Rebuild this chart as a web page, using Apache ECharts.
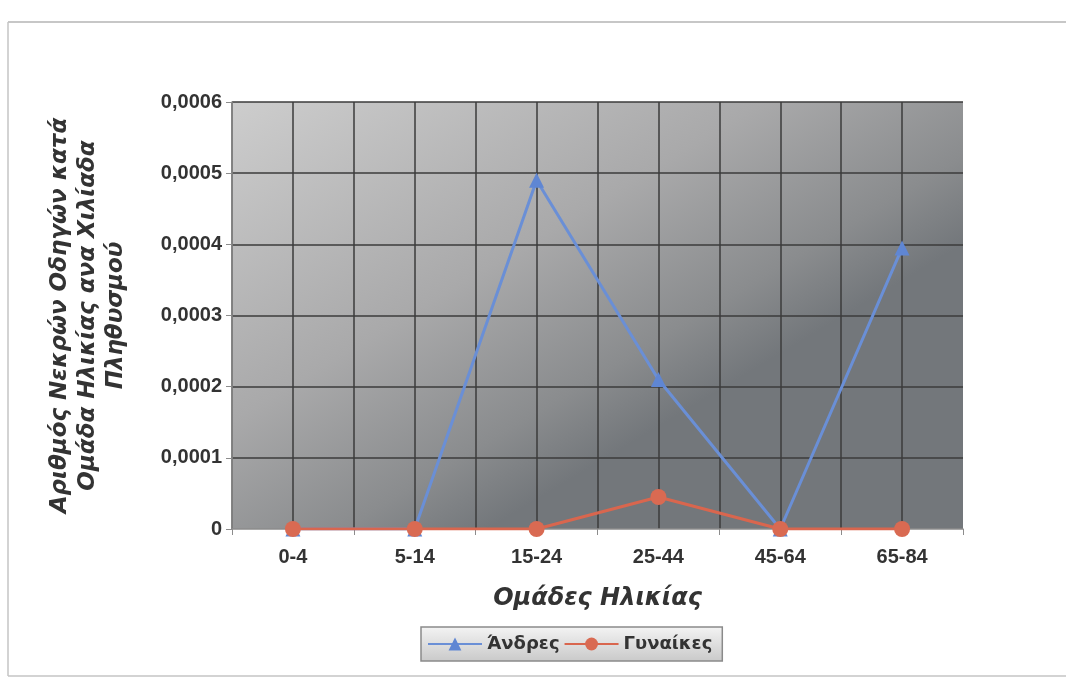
<!DOCTYPE html>
<html>
<head>
<meta charset="utf-8">
<script src="https://cdn.jsdelivr.net/npm/echarts@6/dist/echarts.min.js"></script>
<style>
  html, body { margin: 0; padding: 0; background: #fff; }
  #chart { width: 1066px; height: 677px; }
</style>
</head>
<body>
<div id="chart"></div>
<script>
// Age groups and driver fatalities per thousand population
const ageGroups = ['0-4', '5-14', '15-24', '25-44', '45-64', '65-84'];
const men = [0, 0, 0.00049, 0.00021, 0, 0.000395];
const women = [0, 0, 0, 0.000045, 0, 0];
const yTicks = { min: 0, max: 0.0006, step: 0.0001 };

const chart = echarts.init(document.getElementById('chart'));
const darkGrid = { color: '#3b3b3b', width: 1.5 };
const baseFont = '"Liberation Sans", Arial, sans-serif';
const titleFont = '"DejaVu Sans", Verdana, sans-serif';

chart.setOption({
  animation: false,
  backgroundColor: '#ffffff',
  grid: {
    left: 232, right: 103, top: 102, bottom: 148,
    show: true,
    borderWidth: 0,
    backgroundColor: new echarts.graphic.LinearGradient(0, 0, 0.35, 1, [
      { offset: 0, color: '#cdcdcd' },
      { offset: 0.55, color: '#a9a9aa' },
      { offset: 0.85, color: '#8a8c8e' },
      { offset: 1, color: '#73777b' }
    ])
  },
  legend: {
    data: ['Άνδρες', 'Γυναίκες'],
    left: 421, top: 627,
    padding: [8, 10, 8, 6],
    itemGap: 4,
    itemWidth: 54, itemHeight: 16,
    backgroundColor: new echarts.graphic.LinearGradient(0, 0, 0, 1, [
      { offset: 0, color: '#f4f4f4' },
      { offset: 1, color: '#c9c9c9' }
    ]),
    borderColor: '#8a8a8a', borderWidth: 1.5,
    textStyle: { fontFamily: titleFont, fontWeight: 'bold', fontSize: 18, color: '#333' }
  },
  xAxis: [
    {
      type: 'category',
      data: ageGroups,
      boundaryGap: true,
      axisLine: { lineStyle: { color: '#8c8c8c', width: 1.5 } },
      axisTick: { show: true, length: 6, lineStyle: { color: '#8c8c8c' } },
      axisLabel: { margin: 18, fontFamily: baseFont, fontWeight: 'bold', fontSize: 20, color: '#333' },
      splitLine: { show: false },
      name: 'Ομάδες Ηλικίας',
      nameLocation: 'middle',
      nameGap: 58,
      nameTextStyle: { fontFamily: titleFont, fontStyle: 'italic', fontWeight: 'bold', fontSize: 24, color: '#333' }
    },
    {
      // half-category grid for the vertical rules
      type: 'value',
      min: 0, max: 12, interval: 1,
      position: 'bottom',
      axisLine: { show: false },
      axisTick: { show: false },
      axisLabel: { show: false },
      splitLine: { show: true, showMaxLine: false, lineStyle: darkGrid }
    }
  ],
  yAxis: {
    type: 'value',
    min: yTicks.min, max: yTicks.max, interval: yTicks.step,
    axisLine: { show: true, lineStyle: { color: '#8c8c8c', width: 1.5 } },
    axisTick: { show: true, length: 6, lineStyle: { color: '#8c8c8c' } },
    axisLabel: {
      margin: 10,
      fontFamily: baseFont, fontWeight: 'bold', fontSize: 20, color: '#333',
      formatter: v => (v === 0 ? '0' : v.toFixed(4).replace('.', ','))
    },
    splitLine: { show: true, showMinLine: false, lineStyle: darkGrid },
    name: 'Αριθμός Νεκρών Οδηγών κατά\nΟμάδα Ηλικίας ανα Χιλίαδα\nΠληθυσμού',
    nameLocation: 'middle',
    nameGap: 102,
    nameRotate: 90,
    nameTextStyle: {
      fontFamily: titleFont, fontStyle: 'italic', fontWeight: 'bold',
      fontSize: 23, lineHeight: 28, color: '#333', align: 'center'
    }
  },
  series: [
    {
      name: 'Άνδρες',
      type: 'line',
      data: men,
      symbol: 'triangle',
      symbolSize: 15,
      lineStyle: { color: '#6a8fd6', width: 3 },
      itemStyle: { color: '#5f86d3' },
      z: 3
    },
    {
      name: 'Γυναίκες',
      type: 'line',
      data: women,
      symbol: 'circle',
      symbolSize: 16,
      lineStyle: { color: '#d9664e', width: 3 },
      itemStyle: { color: '#d96a52' },
      z: 4
    }
  ],
  graphic: [
    { type: 'line', shape: { x1: 8, y1: 22, x2: 1066, y2: 22 }, style: { stroke: '#b5b5b5', lineWidth: 1.5 } },
    { type: 'line', shape: { x1: 8, y1: 22, x2: 8, y2: 676 }, style: { stroke: '#c4c4c4', lineWidth: 1.5 } },
    { type: 'line', shape: { x1: 8, y1: 676, x2: 1066, y2: 676 }, style: { stroke: '#c4c4c4', lineWidth: 1.5 } }
  ]
});
</script>
</body>
</html>
